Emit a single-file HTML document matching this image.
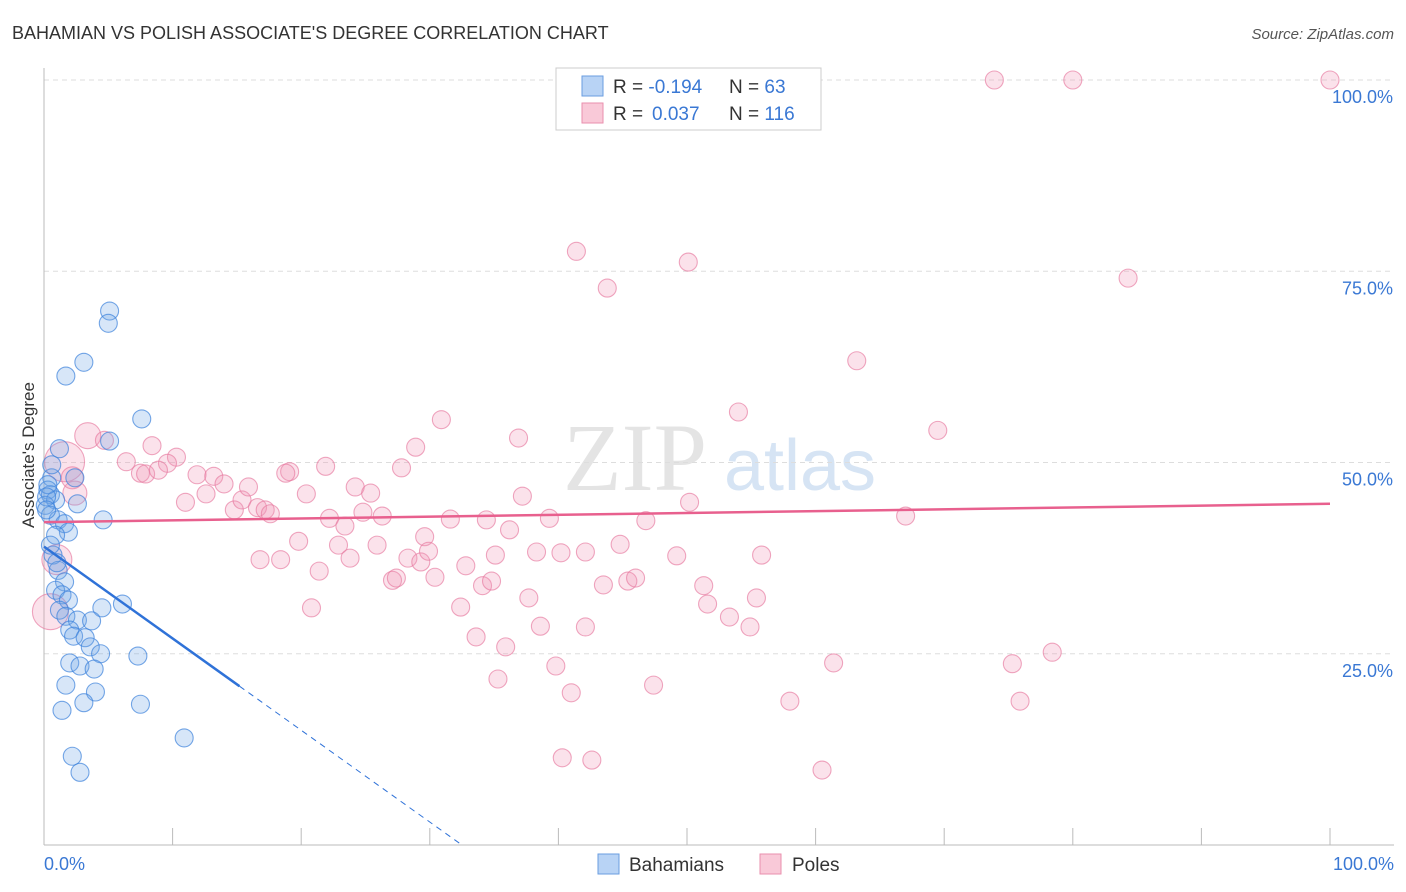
<!DOCTYPE html>
<html><head><meta charset="utf-8"><style>
body{margin:0;background:#fff;font-family:"Liberation Sans",sans-serif;}
#wrap{position:relative;width:1406px;height:892px;overflow:hidden;}
</style></head><body>
<div id="wrap">
<svg id="svg" width="1406" height="892" xmlns="http://www.w3.org/2000/svg">
<text x="12" y="39" font-size="18" fill="#333">BAHAMIAN VS POLISH ASSOCIATE'S DEGREE CORRELATION CHART</text>
<text x="1394" y="39" font-size="15" fill="#555" font-style="italic" text-anchor="end">Source: ZipAtlas.com</text>
<text x="635" y="490" font-size="96" fill="#e4e4e4" font-family="Liberation Serif,serif" text-anchor="middle">ZIP</text>
<text x="800" y="490" font-size="72" fill="#d6e4f4" text-anchor="middle">atlas</text>
<g id="grid"></g><g id="marks"></g><g id="fg"></g>
<text transform="translate(34,455) rotate(-90)" font-size="17" fill="#333" text-anchor="middle">Associate's Degree</text>
<text x="44" y="870" font-size="18" fill="#3a78d4">0.0%</text>
<text x="1394" y="870" font-size="18" fill="#3a78d4" text-anchor="end">100.0%</text>
<rect x="556" y="68" width="265" height="62" fill="#fff" stroke="#ccc"/>
<rect x="582" y="76" width="21" height="20" fill="#b8d3f5" stroke="#6a9ee0"/>
<rect x="582" y="103" width="21" height="20" fill="#f9c9d8" stroke="#e98fae"/>
<text x="613" y="93" font-size="19" fill="#333">R = <tspan fill="#3a78d4">-0.194</tspan><tspan x="729">N = </tspan><tspan fill="#3a78d4">63</tspan></text>
<text x="613" y="120" font-size="19" fill="#333">R = <tspan x="652" fill="#3a78d4">0.037</tspan><tspan x="729">N = </tspan><tspan fill="#3a78d4">116</tspan></text>
<rect x="598" y="854" width="21" height="20" fill="#b8d3f5" stroke="#6a9ee0"/>
<text x="629" y="871" font-size="19" fill="#333">Bahamians</text>
<rect x="760" y="854" width="21" height="20" fill="#f9c9d8" stroke="#e98fae"/>
<text x="792" y="871" font-size="19" fill="#333">Poles</text>
</svg></div>
<script>
const yTicks=[25,50,75,100];
const yTickLabels=["25.0%","50.0%","75.0%","100.0%"];
const xTicks=[0,10,20,30,40,50,60,70,80,90,100];
const blueX=[5.1,5.0,3.1,1.7,7.6,1.2,5.1,2.4,0.6,0.3,0.5,0.9,0.1,2.6,0.5,1.1,1.6,4.6,1.9,0.9,0.7,1.1,1.6,0.9,1.4,1.9,4.5,6.1,1.2,1.7,2.6,3.7,2.0,2.3,3.2,3.6,4.4,7.3,2.0,2.8,3.9,1.7,4.0,3.1,7.5,1.4,10.9,2.2,2.8,0.3,0.2,0.5,0.2,0.6,1.0];
const blueY=[69.8,68.2,63.1,61.3,55.7,51.8,52.8,48.0,48.0,46.4,45.8,45.1,44.4,44.6,43.1,42.5,42.0,42.5,40.9,40.5,37.9,35.9,34.4,33.3,32.7,32.0,31.0,31.5,30.7,29.9,29.4,29.3,28.1,27.3,27.1,25.9,25.0,24.7,23.8,23.4,23.0,20.9,20.0,18.6,18.4,17.6,14.0,11.6,9.5,47.1,45.5,39.2,43.8,49.7,36.9];
const pinkX=[73.9,80.0,100,41.4,50.1,43.8,84.3,63.2,30.9,54.0,69.5,36.9,28.9,3.4,4.7,8.4,10.3,9.6,6.4,7.5,7.9,8.9,11.0,11.9,13.2,14.0,12.6,14.8,15.4,15.9,16.6,17.2,17.6,19.1,18.8,20.4,21.9,24.2,25.4,27.8,22.2,23.4,24.8,26.3,29.6,31.6,34.4,36.2,37.2,39.3,38.3,42.1,44.8,46.8,50.2,55.8,67.0,16.8,18.4,19.8,21.4,22.9,23.8,25.9,27.1,27.4,28.3,29.3,29.9,30.4,32.8,34.1,34.8,35.1,37.7,40.2,43.5,45.4,46.0,49.2,51.3,51.6,53.3,55.4,20.8,32.4,33.6,35.9,38.6,42.1,54.9,35.3,39.8,41.0,47.4,61.4,75.3,78.4,58.0,75.9,40.3,42.6,60.5,1.6,1.0,0.5,2.4,2.2];
const pinkY=[100,100,100,77.6,76.2,72.8,74.1,63.3,55.6,56.6,54.2,53.2,52.0,53.5,52.9,52.2,50.7,49.9,50.1,48.6,48.5,49.0,44.8,48.4,48.2,47.2,45.9,43.8,45.1,46.8,44.1,43.8,43.3,48.8,48.6,45.9,49.5,46.8,46.0,49.3,42.7,41.7,43.5,43.0,40.3,42.6,42.5,41.2,45.6,42.7,38.3,38.3,39.3,42.4,44.8,37.9,43.0,37.3,37.3,39.7,35.8,39.2,37.5,39.2,34.6,34.9,37.5,37.0,38.4,35.0,36.5,33.9,34.5,37.9,32.3,38.2,34.0,34.5,34.9,37.8,33.9,31.5,29.8,32.3,31.0,31.1,27.2,25.9,28.6,28.5,28.5,21.7,23.4,19.9,20.9,23.8,23.7,25.2,18.8,18.8,11.4,11.1,9.8,50.1,37.3,30.5,46.0,48.0];
const pinkSize=pinkX.map((v,i)=>i>=pinkX.length-5?[20,15,18,12,11][i-(pinkX.length-5)]:(i==13?13:9));
const blueTrend=[39.0,-1.2];
const pinkTrend=[42.2,0.024];
const NS="http://www.w3.org/2000/svg";
const X0=44,X1=1330,Y0=845,Y100=80;
const sx=v=>X0+(X1-X0)*v/100, sy=v=>Y0-(Y0-Y100)*v/100;
function mk(tag,attrs,parent){const e=document.createElementNS(NS,tag);for(const k in attrs)e.setAttribute(k,attrs[k]);document.getElementById(parent).appendChild(e);return e;}
yTicks.forEach((t,i)=>{
 const l=mk('line',{x1:X0,x2:1394,y1:sy(t),y2:sy(t),stroke:'#ddd','stroke-dasharray':'5,4'},'grid');
 
 
 const tx=mk('text',{x:1393,y:sy(t)+23,'font-size':18,fill:'#3a78d4','text-anchor':'end'},'grid');
 tx.textContent=yTickLabels[i];
 
 
});
const ax=mk('line',{x1:X0,x2:1394,y1:Y0,y2:Y0,stroke:'#bbb'},'grid');


const ay=mk('line',{x1:X0,x2:X0,y1:68,y2:Y0,stroke:'#bbb'},'grid');


xTicks.forEach(t=>{
 const l=mk('line',{x1:sx(t),x2:sx(t),y1:Y0,y2:Y0-17,stroke:'#bbb'},'grid');
 
 
});
pinkX.forEach((v,i)=>{
 const c=mk('circle',{cx:sx(v),cy:sy(pinkY[i]),r:pinkSize[i],fill:'rgba(242,150,182,0.28)',stroke:'rgba(230,120,158,0.65)','stroke-width':1.1},'marks');
 
 
});
blueX.forEach((v,i)=>{
 const c=mk('circle',{cx:sx(v),cy:sy(blueY[i]),r:9,fill:'rgba(110,165,230,0.28)',stroke:'rgba(60,130,220,0.7)','stroke-width':1.1},'marks');
 
 
});
const pt=mk('line',{x1:sx(0),y1:sy(pinkTrend[0]),x2:sx(100),y2:sy(pinkTrend[0]+pinkTrend[1]*100),stroke:'#e8608e','stroke-width':2.5},'fg');


const bEnd=15.2,bZero=-blueTrend[0]/blueTrend[1];
const bt=mk('line',{x1:sx(0),y1:sy(blueTrend[0]),x2:sx(bEnd),y2:sy(blueTrend[0]+blueTrend[1]*bEnd),stroke:'#2f72d8','stroke-width':2.5},'fg');


const bd=mk('line',{x1:sx(bEnd),y1:sy(blueTrend[0]+blueTrend[1]*bEnd),x2:sx(bZero),y2:sy(0),stroke:'#2f72d8','stroke-width':1,'stroke-dasharray':'6,5'},'fg');


</script>
</body></html>
